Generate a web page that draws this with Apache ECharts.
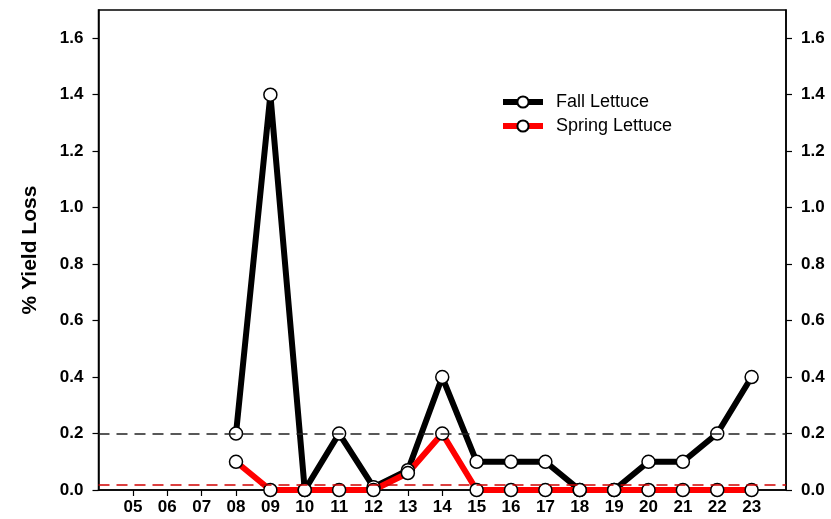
<!DOCTYPE html>
<html><head><meta charset="utf-8">
<script src="https://cdn.jsdelivr.net/npm/echarts@6/dist/echarts.min.js"></script>
<style>html,body{margin:0;padding:0;background:#fff}#c{width:831px;height:519px}</style>
</head><body><div id="c"></div>
<script>
const years = ['05','06','07','08','09','10','11','12','13','14','15','16','17','18','19','20','21','22','23'];
const fallLettuce = [null,null,null,0.2,1.4,0,0.2,0.01,0.07,0.4,0.1,0.1,0.1,0,0,0.1,0.1,0.2,0.4];
const springLettuce = [null,null,null,0.1,0,0,0,0,0.06,0.2,0,0,0,0,0,0,0,0,0];
const fallThreshold = 0.2;
const springThreshold = 0.018;
const yTicks = [0,0.2,0.4,0.6,0.8,1.0,1.2,1.4,1.6];

const cats = ['04'].concat(years, ['24']);
const pad = a => [null].concat(a, [null]);
const edge = (i) => i !== 0 && i !== cats.length - 1;
const font = 'Liberation Sans, Arial, sans-serif';
const yAxisCommon = {
  type: 'value', min: 0, max: 1.7, interval: 0.2,
  axisLine: {show: true, lineStyle: {color: '#000', width: 1.5}},
  axisTick: {show: true, length: 6, customValues: yTicks, lineStyle: {color: '#000', width: 1.2}},
  splitLine: {show: false},
  axisLabel: {color: '#000', fontWeight: 'bold', fontSize: 17, fontFamily: font, margin: 15,
    customValues: yTicks, formatter: v => Number(v).toFixed(1)}
};
const chart = echarts.init(document.getElementById('c'));
chart.setOption({
  animation: false,
  backgroundColor: '#fff',
  grid: {left: 98.5, right: 45, top: 10, bottom: 29, show: true, borderColor: '#000', borderWidth: 1.5, backgroundColor: 'transparent'},
  legend: {
    left: 500, top: 93, padding: 0, orient: 'vertical', itemGap: 6, itemWidth: 40, itemHeight: 14,
    lineStyle: {width: 6},
    textStyle: {fontSize: 18, fontFamily: font, color: '#000', padding: [0, 0, 0, 8]},
    data: ['Fall Lettuce', 'Spring Lettuce']
  },
  xAxis: {
    type: 'category', data: cats, boundaryGap: false,
    axisLine: {lineStyle: {color: '#000', width: 1.5}},
    axisTick: {show: true, length: 6, interval: (i) => edge(i), lineStyle: {color: '#000', width: 1.2}},
    axisLabel: {interval: (i) => edge(i), color: '#000', fontWeight: 'bold', fontSize: 17, fontFamily: font, margin: 9}
  },
  yAxis: [
    Object.assign({position: 'left', name: '% Yield Loss', nameLocation: 'middle', nameGap: 58,
      nameTextStyle: {fontWeight: 'bold', fontSize: 21, fontFamily: font, color: '#000'}}, yAxisCommon),
    Object.assign({position: 'right'}, yAxisCommon)
  ],
  series: [
    {
      name: 'Fall Lettuce', type: 'line', data: pad(fallLettuce), connectNulls: false,
      symbol: 'circle', symbolSize: 13, showAllSymbol: true,
      lineStyle: {color: '#000', width: 6},
      itemStyle: {color: '#fff', borderColor: '#000', borderWidth: 1.5},
      markLine: {silent: true, symbol: 'none', label: {show: false},
        lineStyle: {color: '#222', width: 1.5, type: [11, 7]},
        data: [{yAxis: fallThreshold}]}
    },
    {
      name: 'Spring Lettuce', type: 'line', data: pad(springLettuce), connectNulls: false,
      symbol: 'circle', symbolSize: 13, showAllSymbol: true,
      lineStyle: {color: '#ff0000', width: 6},
      itemStyle: {color: '#fff', borderColor: '#000', borderWidth: 1.5},
      markLine: {silent: true, symbol: 'none', label: {show: false},
        lineStyle: {color: '#d00000', width: 1.5, type: [11, 7]},
        data: [{yAxis: springThreshold}]}
    }
  ]
});
</script></body></html>
